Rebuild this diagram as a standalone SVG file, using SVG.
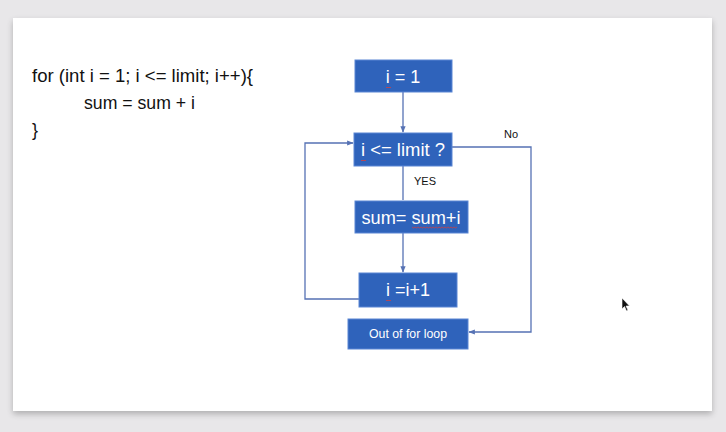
<svg xmlns="http://www.w3.org/2000/svg" width="726" height="432" viewBox="0 0 726 432">
<defs>
<style>
.code{font-family:"Liberation Sans","Open Sans",sans-serif;font-size:18px;fill:#111}
.box{fill:#2f63bb;stroke:#5a86d4;stroke-width:1}
.bt{font-family:"Liberation Sans","Open Sans",sans-serif;fill:#fff;text-anchor:middle}
.lbl{font-family:"Liberation Sans","Open Sans",sans-serif;font-size:11px;fill:#111}
.con{fill:none;stroke:#5672b4;stroke-width:1.3}
.sq{fill:none;stroke:#d04040;stroke-width:0.8}
</style>
<marker id="ah" viewBox="0 0 10 10" refX="9" refY="5" markerWidth="5" markerHeight="5" orient="auto"><path d="M0,1 L10,5 L0,9 z" fill="#5672b4"/></marker>
<filter id="sh" x="-5%" y="-5%" width="110%" height="115%"><feGaussianBlur in="SourceAlpha" stdDeviation="3"/><feOffset dy="3"/><feComponentTransfer><feFuncA type="linear" slope="0.25"/></feComponentTransfer><feMerge><feMergeNode/><feMergeNode in="SourceGraphic"/></feMerge></filter>
</defs>
<rect width="726" height="432" fill="#e8e7e9"/>
<rect x="13" y="18" width="699" height="393" fill="#ffffff" filter="url(#sh)"/>
<g id="code">
<text class="code" x="32" y="82" textLength="221" lengthAdjust="spacingAndGlyphs">for (int i = 1; i &lt;= limit; i++){</text>
<text class="code" x="84" y="109" textLength="111" lengthAdjust="spacingAndGlyphs">sum = sum + i</text>
<text class="code" x="32" y="136">}</text>
</g>
<g id="connectors">
<line class="con" x1="403" y1="92" x2="403" y2="132" marker-end="url(#ah)"/>
<line class="con" x1="403" y1="166" x2="403" y2="200"/>
<line class="con" x1="403" y1="233" x2="403" y2="272" marker-end="url(#ah)"/>
<polyline class="con" points="359,299 305,299 305,143 353,143" marker-end="url(#ah)"/>
<polyline class="con" points="452,147 531,147 531,332 469,332" marker-end="url(#ah)"/>
<text class="lbl" x="504" y="138">No</text>
<text class="lbl" x="414" y="185" font-size="10">YES</text>
</g>
<g id="n1">
<rect class="box" x="355" y="60" width="97" height="32"/>
<text class="bt" x="403" y="83" font-size="18">i = 1</text>
<path class="sq" d="M386,87 l1,1 1,-1 1,1 1,-1 1,1"/>
</g>
<g id="n2">
<rect class="box" x="354" y="133" width="98" height="33"/>
<text class="bt" x="403" y="156" font-size="18" textLength="84" lengthAdjust="spacingAndGlyphs">i &lt;= limit ?</text>
<path class="sq" d="M361,160 l1,1 1,-1 1,1 1,-1 1,1"/>
</g>
<g id="n3">
<rect class="box" x="355" y="201" width="113" height="32"/>
<text class="bt" x="411" y="224" font-size="18" textLength="99" lengthAdjust="spacingAndGlyphs">sum= sum+i</text>
<path class="sq" d="M412,227 l1.5,1 1.5,-1 1.5,1 1.5,-1 1.5,1 1.5,-1 1.5,1 1.5,-1 1.5,1 1.5,-1 1.5,1 1.5,-1 1.5,1 1.5,-1 1.5,1 1.5,-1 1.5,1 1.5,-1 1.5,1 1.5,-1 1.5,1 1.5,-1 1.5,1 1.5,-1 1.5,1 1.5,-1 1.5,1 1.5,-1 1.5,1 1.5,-1"/>
</g>
<g id="n4">
<rect class="box" x="359" y="273" width="98" height="34"/>
<text class="bt" x="408" y="296" font-size="18" textLength="44" lengthAdjust="spacingAndGlyphs">i =i+1</text>
<path class="sq" d="M386,300 l1,1 1,-1 1,1 1,-1 1,1"/>
</g>
<g id="n5">
<rect class="box" x="348" y="319" width="120" height="30"/>
<text class="bt" x="408" y="338" font-size="12" textLength="78" lengthAdjust="spacingAndGlyphs">Out of for loop</text>
</g>
<path d="M622,298 L622,309 L624.5,306.5 L626.5,311 L628,310.3 L626,306 L629.5,306 Z" fill="#111" stroke="#fff" stroke-width="0.6"/>
</svg>
